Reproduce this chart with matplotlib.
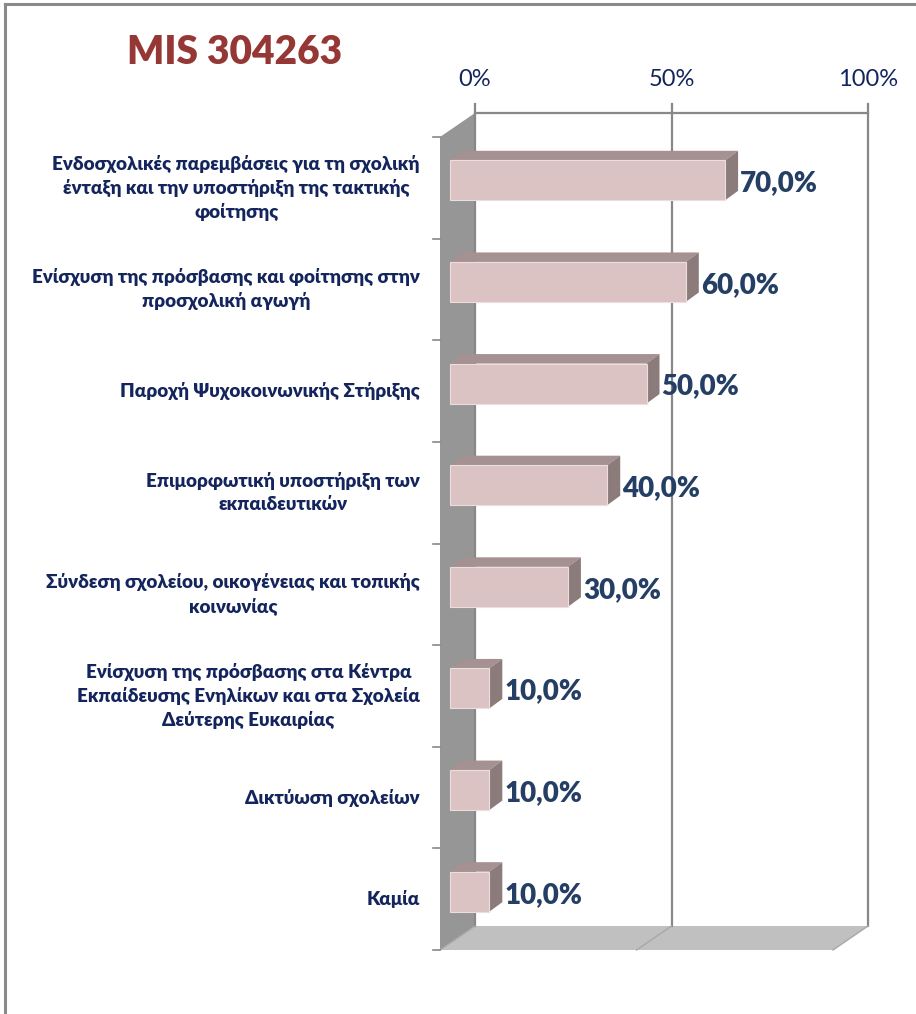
import matplotlib.pyplot as plt
from matplotlib.patches import Polygon
from matplotlib.lines import Line2D

plt.rcParams['font.family'] = ['Lato', 'Noto Sans', 'DejaVu Sans']

title = "MIS 304263"
categories = [
    "Ενδοσχολικές παρεμβάσεις για τη σχολική\nένταξη και την υποστήριξη της τακτικής\nφοίτησης",
    "Ενίσχυση της πρόσβασης και φοίτησης στην\nπροσχολική αγωγή",
    "Παροχή Ψυχοκοινωνικής Στήριξης",
    "Επιμορφωτική υποστήριξη των\nεκπαιδευτικών",
    "Σύνδεση σχολείου, οικογένειας και τοπικής\nκοινωνίας",
    "Ενίσχυση της πρόσβασης στα Κέντρα\nΕκπαίδευσης Ενηλίκων και στα Σχολεία\nΔεύτερης Ευκαιρίας",
    "Δικτύωση σχολείων",
    "Καμία",
]
values = [70.0, 60.0, 50.0, 40.0, 30.0, 10.0, 10.0, 10.0]
x_ticks = [0, 50, 100]
x_tick_labels = ["0%", "50%", "100%"]

W, H = 916, 1014
fig = plt.figure(figsize=(W / 100, H / 100), dpi=100)

# front plane of the 3d box, in pixels
fx0, fx1, fy0, fy1 = 440, 833, 137, 950
ax = fig.add_axes([fx0 / W, 1 - fy1 / H, (fx1 - fx0) / W, (fy1 - fy0) / H])
n = len(categories)
ax.set_xlim(0, 100)
ax.set_ylim(0, n)
ax.axis("off")

px = 100 / (fx1 - fx0)      # data units per pixel, x
py = n / (fy1 - fy0)        # data units per pixel, y
dx, dy = 35 * px, 24 * py   # depth of the box

grid = "#888888"
navy = "#13255c"
lbl = "#243f63"

# walls and floor
ax.add_patch(Polygon([(0, 0), (0, n), (dx, n + dy), (dx, dy)],
                     closed=True, fc="#969696", ec="none", clip_on=False))
ax.add_patch(Polygon([(0, 0), (100, 0), (100 + dx, dy), (dx, dy)],
                     closed=True, fc="#c0c0c0", ec="none", clip_on=False))
for t in x_ticks:
    ax.plot([t + dx, t + dx], [dy, n + dy + 9 * py], color=grid, lw=1.6,
            clip_on=False, zorder=1)
    ax.plot([t, t + dx], [0, dy], color="#a8a8a8", lw=1.0, clip_on=False, zorder=1)
ax.plot([dx, 100 + dx], [n + dy, n + dy], color=grid, lw=1.6, clip_on=False)
for t, s in zip(x_ticks, x_tick_labels):
    ax.text(t + dx, n + dy + 33 * py, s, ha="center", va="center",
            fontsize=17, color=navy, clip_on=False)

# category ticks on the left wall
for k in range(n + 1):
    ax.plot([-7 * px, 0], [k, k], color=grid, lw=1.2, clip_on=False)

# 3d bars
bx0 = 10 * px
bdy0 = 7.5 * py
bh = 20 * py
ddx, ddy = 13 * px, 9.5 * py
for i, (cat, v) in enumerate(zip(categories, values)):
    yc = n - 0.5 - i
    yb, yt = yc + bdy0 - bh, yc + bdy0 + bh
    x1 = bx0 + v
    ax.add_patch(Polygon([(bx0, yt), (x1, yt), (x1 + ddx, yt + ddy), (bx0 + ddx, yt + ddy)],
                         closed=True, fc="#a59191", ec="none", zorder=3, clip_on=False))
    ax.add_patch(Polygon([(x1, yb), (x1 + ddx, yb + ddy), (x1 + ddx, yt + ddy), (x1, yt)],
                         closed=True, fc="#8c7b7b", ec="none", zorder=3, clip_on=False))
    ax.add_patch(Polygon([(bx0, yb), (x1, yb), (x1, yt), (bx0, yt)],
                         closed=True, fc="#dcc3c3", ec="#ecdede", lw=0.8, zorder=4, clip_on=False))
    ax.text(x1 + ddx + 2 * px, yc + bdy0 - 3 * py, f"{v:.1f}%".replace(".", ","),
            ha="left", va="center", fontsize=20, fontweight="heavy", color=lbl,
            zorder=5, clip_on=False)
    ax.text(-20 * px, yc, cat, ha="right", va="center", multialignment="center",
            fontsize=13.5, fontweight="heavy", color=navy, linespacing=1.4,
            clip_on=False)

fig.text(235 / W, 1 - 52 / H, title, ha="center", va="center", fontsize=28,
         fontweight="heavy", color="#953735")

# chart border
fig.add_artist(Line2D([5 / W, 5 / W], [0, 1 - 4 / H], color="#8a8a8a", lw=2.2))
fig.add_artist(Line2D([5 / W, 1], [1 - 4 / H, 1 - 4 / H], color="#8a8a8a", lw=2.2))

fig.savefig("out.png", dpi=100)
